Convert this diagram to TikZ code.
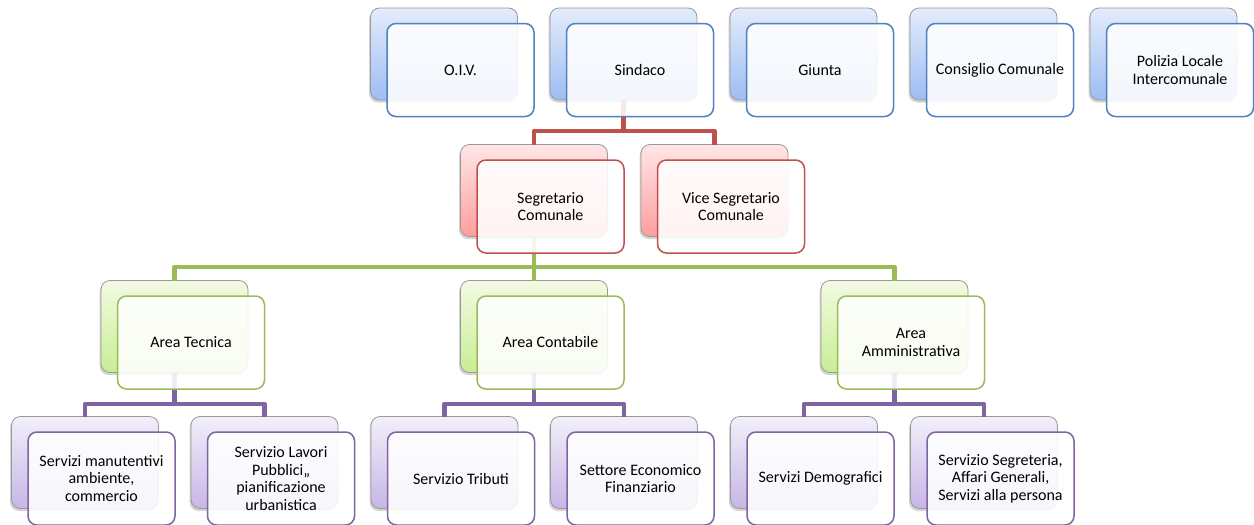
\documentclass[tikz,border=0pt]{standalone}
\usepackage{fontspec}
\setmainfont{Carlito}
\usetikzlibrary{shadows}
\definecolor{bluedark}{HTML}{4F81BD}
\definecolor{reddark}{HTML}{C0504D}
\definecolor{greendark}{HTML}{9BBB59}
\definecolor{purpledark}{HTML}{8064A2}
\definecolor{bluetop}{HTML}{E3ECFB}
\definecolor{bluebot}{HTML}{9DBDF4}
\definecolor{redtop}{HTML}{FFE6E6}
\definecolor{redbot}{HTML}{FF9E9E}
\definecolor{greentop}{HTML}{F3FAE3}
\definecolor{greenbot}{HTML}{C8EE93}
\definecolor{purpletop}{HTML}{F2EFF9}
\definecolor{purplebot}{HTML}{C6B6E6}
\begin{document}
\begin{tikzpicture}[x=1pt,y=-1pt,
  backbox/.style={rectangle, rounded corners=9pt, minimum width=147pt, minimum height=92pt,
    inner sep=0pt, outer sep=0pt, draw=gray!80, line width=0.8pt,
    drop shadow={shadow xshift=-1.5pt, shadow yshift=-2.5pt, opacity=0.35}},
  frontbox/.style={rectangle, rounded corners=9pt, minimum width=147pt, minimum height=93pt,
    inner sep=2pt, outer sep=0pt, fill=white, fill opacity=0.88, text opacity=1,
    line width=1.5pt, align=center, font=\fontsize{16}{17.5}\selectfont},
  bback/.style={backbox, top color=bluetop, bottom color=bluebot},
  rback/.style={backbox, top color=redtop, bottom color=redbot},
  gback/.style={backbox, top color=greentop, bottom color=greenbot},
  pback/.style={backbox, top color=purpletop, bottom color=purplebot},
  bfront/.style={frontbox, draw=bluedark},
  rfront/.style={frontbox, draw=reddark},
  gfront/.style={frontbox, draw=greendark},
  pfront/.style={frontbox, draw=purpledark},
  link/.style={line width=4.5pt, line join=round},
  rlink/.style={link, draw=reddark},
  glink/.style={link, draw=greendark},
  plink/.style={link, draw=purpledark},
  off/.style={shift={(16.5,16)}}
]
\useasboundingbox (0,0) rectangle (1254,525);

% back boxes
\node[bback] (oiv-b) at (444,54) {};
\node[bback] (sind-b) at (623.5,54) {};
\node[bback] (giunta-b) at (803.5,54) {};
\node[bback] (cons-b) at (983.5,54) {};
\node[bback] (pol-b) at (1163.5,54) {};
\node[rback] (seg-b) at (534,190.5) {};
\node[rback] (vice-b) at (714.5,190.5) {};
\node[gback] (tec-b) at (174.5,326.5) {};
\node[gback] (cont-b) at (534,326.5) {};
\node[gback] (amm-b) at (894.5,326.5) {};
\node[pback] (sm-b) at (85,462.5) {};
\node[pback] (lp-b) at (264.5,462.5) {};
\node[pback] (trib-b) at (444.5,462.5) {};
\node[pback] (eco-b) at (624,462.5) {};
\node[pback] (dem-b) at (804,462.5) {};
\node[pback] (segr-b) at (984,462.5) {};

% bus coordinates
\coordinate (busR) at (0,131);
\coordinate (busG) at (0,267);
\coordinate (busP) at (0,404);

% connectors
\draw[rlink] (seg-b.north) |- (sind-b.south |- busR) -- (sind-b.south);
\draw[rlink] (vice-b.north) |- (sind-b.south |- busR);
\draw[glink] (tec-b.north) |- (seg-b.south |- busG) -- (seg-b.south);
\draw[glink] (cont-b.north) -- (seg-b.south |- busG);
\draw[glink] (amm-b.north) |- (seg-b.south |- busG);
\draw[plink] (sm-b.north) |- (tec-b.south |- busP) -- (tec-b.south);
\draw[plink] (lp-b.north) |- (tec-b.south |- busP);
\draw[plink] (trib-b.north) |- (cont-b.south |- busP) -- (cont-b.south);
\draw[plink] (eco-b.north) |- (cont-b.south |- busP);
\draw[plink] (dem-b.north) |- (amm-b.south |- busP) -- (amm-b.south);
\draw[plink] (segr-b.north) |- (amm-b.south |- busP);

% front boxes
\node[bfront] (oiv) at ([off]oiv-b.center) {O.I.V.};
\node[bfront] (sind) at ([off]sind-b.center) {Sindaco};
\node[bfront] (giunta) at ([off]giunta-b.center) {Giunta};
\node[bfront] (cons) at ([off]cons-b.center) {Consiglio Comunale};
\node[bfront] (pol) at ([off]pol-b.center) {Polizia Locale\\Intercomunale};
\node[rfront] (seg) at ([off]seg-b.center) {Segretario\\Comunale};
\node[rfront] (vice) at ([off]vice-b.center) {Vice Segretario\\Comunale};
\node[gfront] (tec) at ([off]tec-b.center) {Area Tecnica};
\node[gfront] (cont) at ([off]cont-b.center) {Area Contabile};
\node[gfront] (amm) at ([off]amm-b.center) {Area\\Amministrativa};
\node[pfront] (sm) at ([off]sm-b.center) {Servizi manutentivi\\ambiente,\\commercio};
\node[pfront] (lp) at ([off]lp-b.center) {Servizio Lavori\\Pubblici,,\\pianificazione\\urbanistica};
\node[pfront] (trib) at ([off]trib-b.center) {Servizio Tributi};
\node[pfront] (eco) at ([off]eco-b.center) {Settore Economico\\Finanziario};
\node[pfront] (dem) at ([off]dem-b.center) {Servizi Demografici};
\node[pfront] (segr) at ([off]segr-b.center) {Servizio Segreteria,\\Affari Generali,\\Servizi alla persona};
\end{tikzpicture}
\end{document}
